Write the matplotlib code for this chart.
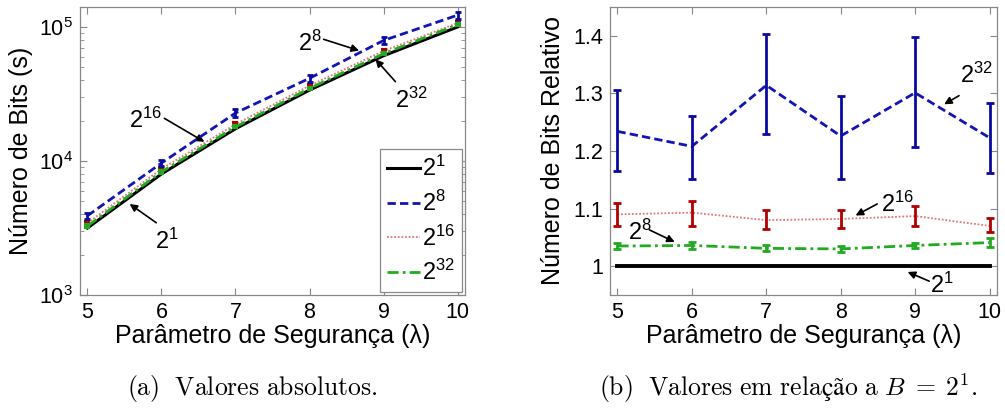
import numpy as np
import matplotlib
matplotlib.use("Agg")
import matplotlib.pyplot as plt
from matplotlib.ticker import FixedLocator, FuncFormatter, LogLocator, NullFormatter

plt.rcParams["font.family"] = ["Liberation Sans", "DejaVu Sans"]
plt.rcParams["mathtext.fontset"] = "custom"
plt.rcParams["mathtext.rm"] = "Liberation Sans"
plt.rcParams["mathtext.it"] = "Liberation Sans:italic"
plt.rcParams["mathtext.bf"] = "Liberation Sans:bold"

# security parameter lambda
lam = [5, 6, 7, 8, 9, 10]
labels = ["$2^{1}$", "$2^{8}$", "$2^{16}$", "$2^{32}$"]

# (a) absolute number of bits
abs_b1 = [3160, 8000, 17400, 33800, 61000, 100000]
abs_b8 = [3900, 9650, 22800, 41400, 79300, 122500]
abs_b8_err = [220, 520, 1500, 2400, 5200, 7400]
abs_b16 = [3440, 8720, 18800, 36500, 66300, 107000]
abs_b16_err = [80, 200, 330, 600, 1200, 1500]
abs_b32 = [3270, 8290, 17940, 34800, 63200, 104000]
abs_b32_err = [40, 90, 150, 280, 500, 900]

# (b) relative to B = 2^1
rel_b1 = [1.0, 1.0, 1.0, 1.0, 1.0, 1.0]
rel_b8 = [1.234, 1.208, 1.314, 1.226, 1.301, 1.223]
rel_b8_lo = [1.165, 1.151, 1.229, 1.151, 1.207, 1.162]
rel_b8_hi = [1.305, 1.261, 1.403, 1.296, 1.397, 1.283]
rel_b16 = [1.090, 1.093, 1.080, 1.082, 1.087, 1.070]
rel_b16_lo = [1.069, 1.070, 1.065, 1.067, 1.070, 1.059]
rel_b16_hi = [1.110, 1.113, 1.097, 1.098, 1.104, 1.084]
rel_b32 = [1.035, 1.036, 1.031, 1.030, 1.036, 1.041]
rel_b32_err = [0.006, 0.006, 0.005, 0.005, 0.005, 0.008]

C_K = "black"
C_B, C_BE = "#1414b4", "#0a0aa0"
C_R, C_RE = "#e07878", "#b00000"
C_G, C_GE = "#22aa22", "#22aa22"
GRAY = "#888888"

fig = plt.figure(figsize=(10.05, 4.09), dpi=100)
axa = fig.add_axes([0.0796, 0.2787, 0.3831, 0.7043])
axb = fig.add_axes([0.607, 0.2787, 0.385, 0.7043])


def style(ax):
    for s in ax.spines.values():
        s.set_color(GRAY); s.set_linewidth(0.9)
    ax.tick_params(which="both", direction="in", top=True, right=True, color=GRAY,
                   labelsize=15.5, pad=5)
    ax.tick_params(which="major", length=5)
    ax.tick_params(which="minor", length=3)
    ax.set_xlim(4.9, 10.1)
    ax.set_xticks(lam)
    ax.set_xlabel("Parâmetro de Segurança (λ)", fontsize=18, labelpad=1)


def arrow(ax, txt, tpos, tail, head):
    ax.text(tpos[0], tpos[1], txt, fontsize=17, ha="center", va="center")
    ax.annotate("", xy=head, xytext=tail,
                arrowprops=dict(arrowstyle="-|>", color="k", lw=1.2, mutation_scale=11,
                                shrinkA=0, shrinkB=0))


# ---- (a)
ax = axa
l1, = ax.plot(lam, abs_b1, color=C_K, lw=2.2, zorder=5)
l8, = ax.plot(lam, abs_b8, color=C_B, lw=2, ls=(0, (3, 1.5)), zorder=4)
ax.errorbar(lam, abs_b8, yerr=abs_b8_err, fmt="none", ecolor=C_BE, elinewidth=2, capsize=2.5, capthick=2, zorder=4)
l16, = ax.plot(lam, abs_b16, color=C_R, lw=1.3, ls=(0, (1, 1)), zorder=3)
ax.errorbar(lam, abs_b16, yerr=abs_b16_err, fmt="none", ecolor=C_RE, elinewidth=3, capsize=2.5, capthick=3, zorder=3)
l32, = ax.plot(lam, abs_b32, color=C_G, lw=2, ls=(0, (4, 1.5, 1, 1.5)), zorder=6)
ax.errorbar(lam, abs_b32, yerr=abs_b32_err, fmt="none", ecolor=C_GE, elinewidth=3, capsize=2.5, capthick=3, zorder=6)
ax.set_yscale("log")
ax.set_ylim(1e3, 1.41e5)
ax.yaxis.set_major_locator(LogLocator(base=10, numticks=10))
ax.yaxis.set_minor_locator(LogLocator(base=10, subs=np.arange(2, 10), numticks=20))
ax.yaxis.set_minor_formatter(NullFormatter())
style(ax)
ax.set_ylabel("Número de Bits (s)", fontsize=18, labelpad=4)
leg = ax.legend([l1, l8, l16, l32], labels, loc="lower right", fontsize=17, frameon=True,
                fancybox=False, edgecolor=GRAY, framealpha=1, handlelength=1.4,
                handletextpad=0.1, labelspacing=0.4, borderpad=0.3, borderaxespad=0.12)
leg.get_frame().set_linewidth(0.9)

arrow(ax, "$2^{8}$", (8.0, 75500), (8.19, 80900), (8.67, 66600))
arrow(ax, "$2^{32}$", (9.38, 28500), (9.16, 39100), (8.89, 57400))
arrow(ax, "$2^{16}$", (5.78, 20200), (6.04, 20800), (6.58, 13900))
arrow(ax, "$2^{1}$", (6.08, 2500), (5.93, 3460), (5.57, 4780))

# ---- (b)
ax = axb
ax.plot(lam, rel_b1, color=C_K, lw=2.8, zorder=5)
ax.plot(lam, rel_b8, color=C_B, lw=2, ls=(0, (3, 1.5)), zorder=4)
ax.errorbar(lam, rel_b8, yerr=[np.subtract(rel_b8, rel_b8_lo), np.subtract(rel_b8_hi, rel_b8)],
            fmt="none", ecolor=C_BE, elinewidth=2, capsize=3, capthick=2, zorder=4)
ax.plot(lam, rel_b16, color=C_R, lw=1.3, ls=(0, (1, 1)), zorder=3)
ax.errorbar(lam, rel_b16, yerr=[np.subtract(rel_b16, rel_b16_lo), np.subtract(rel_b16_hi, rel_b16)],
            fmt="none", ecolor=C_RE, elinewidth=2, capsize=3, capthick=2, zorder=3)
ax.plot(lam, rel_b32, color=C_G, lw=2, ls=(0, (4, 1.5, 1, 1.5)), zorder=6)
ax.errorbar(lam, rel_b32, yerr=rel_b32_err, fmt="none", ecolor=C_GE, elinewidth=2,
            capsize=3, capthick=2, zorder=6)
ax.set_ylim(0.95, 1.45)
ax.yaxis.set_major_locator(FixedLocator([1.0, 1.1, 1.2, 1.3, 1.4]))
ax.yaxis.set_major_formatter(FuncFormatter(lambda v, p: f"{v:g}"))
style(ax)
ax.set_ylabel("Número de Bits Relativo", fontsize=18, labelpad=6)

arrow(ax, "$2^{32}$", (9.83, 1.331), (9.59, 1.296), (9.39, 1.281))
arrow(ax, "$2^{16}$", (8.76, 1.107), (8.49, 1.108), (8.20, 1.088))
arrow(ax, "$2^{8}$", (5.30, 1.058), (5.43, 1.063), (5.77, 1.042))
arrow(ax, "$2^{1}$", (9.36, 0.967), (9.19, 0.974), (8.90, 0.990))

# captions (Computer Modern via mathtext)
cap = dict(fontsize=18.5, math_fontfamily="cm", ha="center", va="center")
fig.text(252 / 1005, 0.05, r"$\mathrm{(a)\ \ Valores\ absolutos.}$", **cap)
fig.text(788 / 1005, 0.05, r"$\mathrm{(b)\ \ Valores\ em\ relação\ a\ }B\;=\;2^1\mathrm{.}$", **cap)

fig.savefig("out.png", dpi=100)
